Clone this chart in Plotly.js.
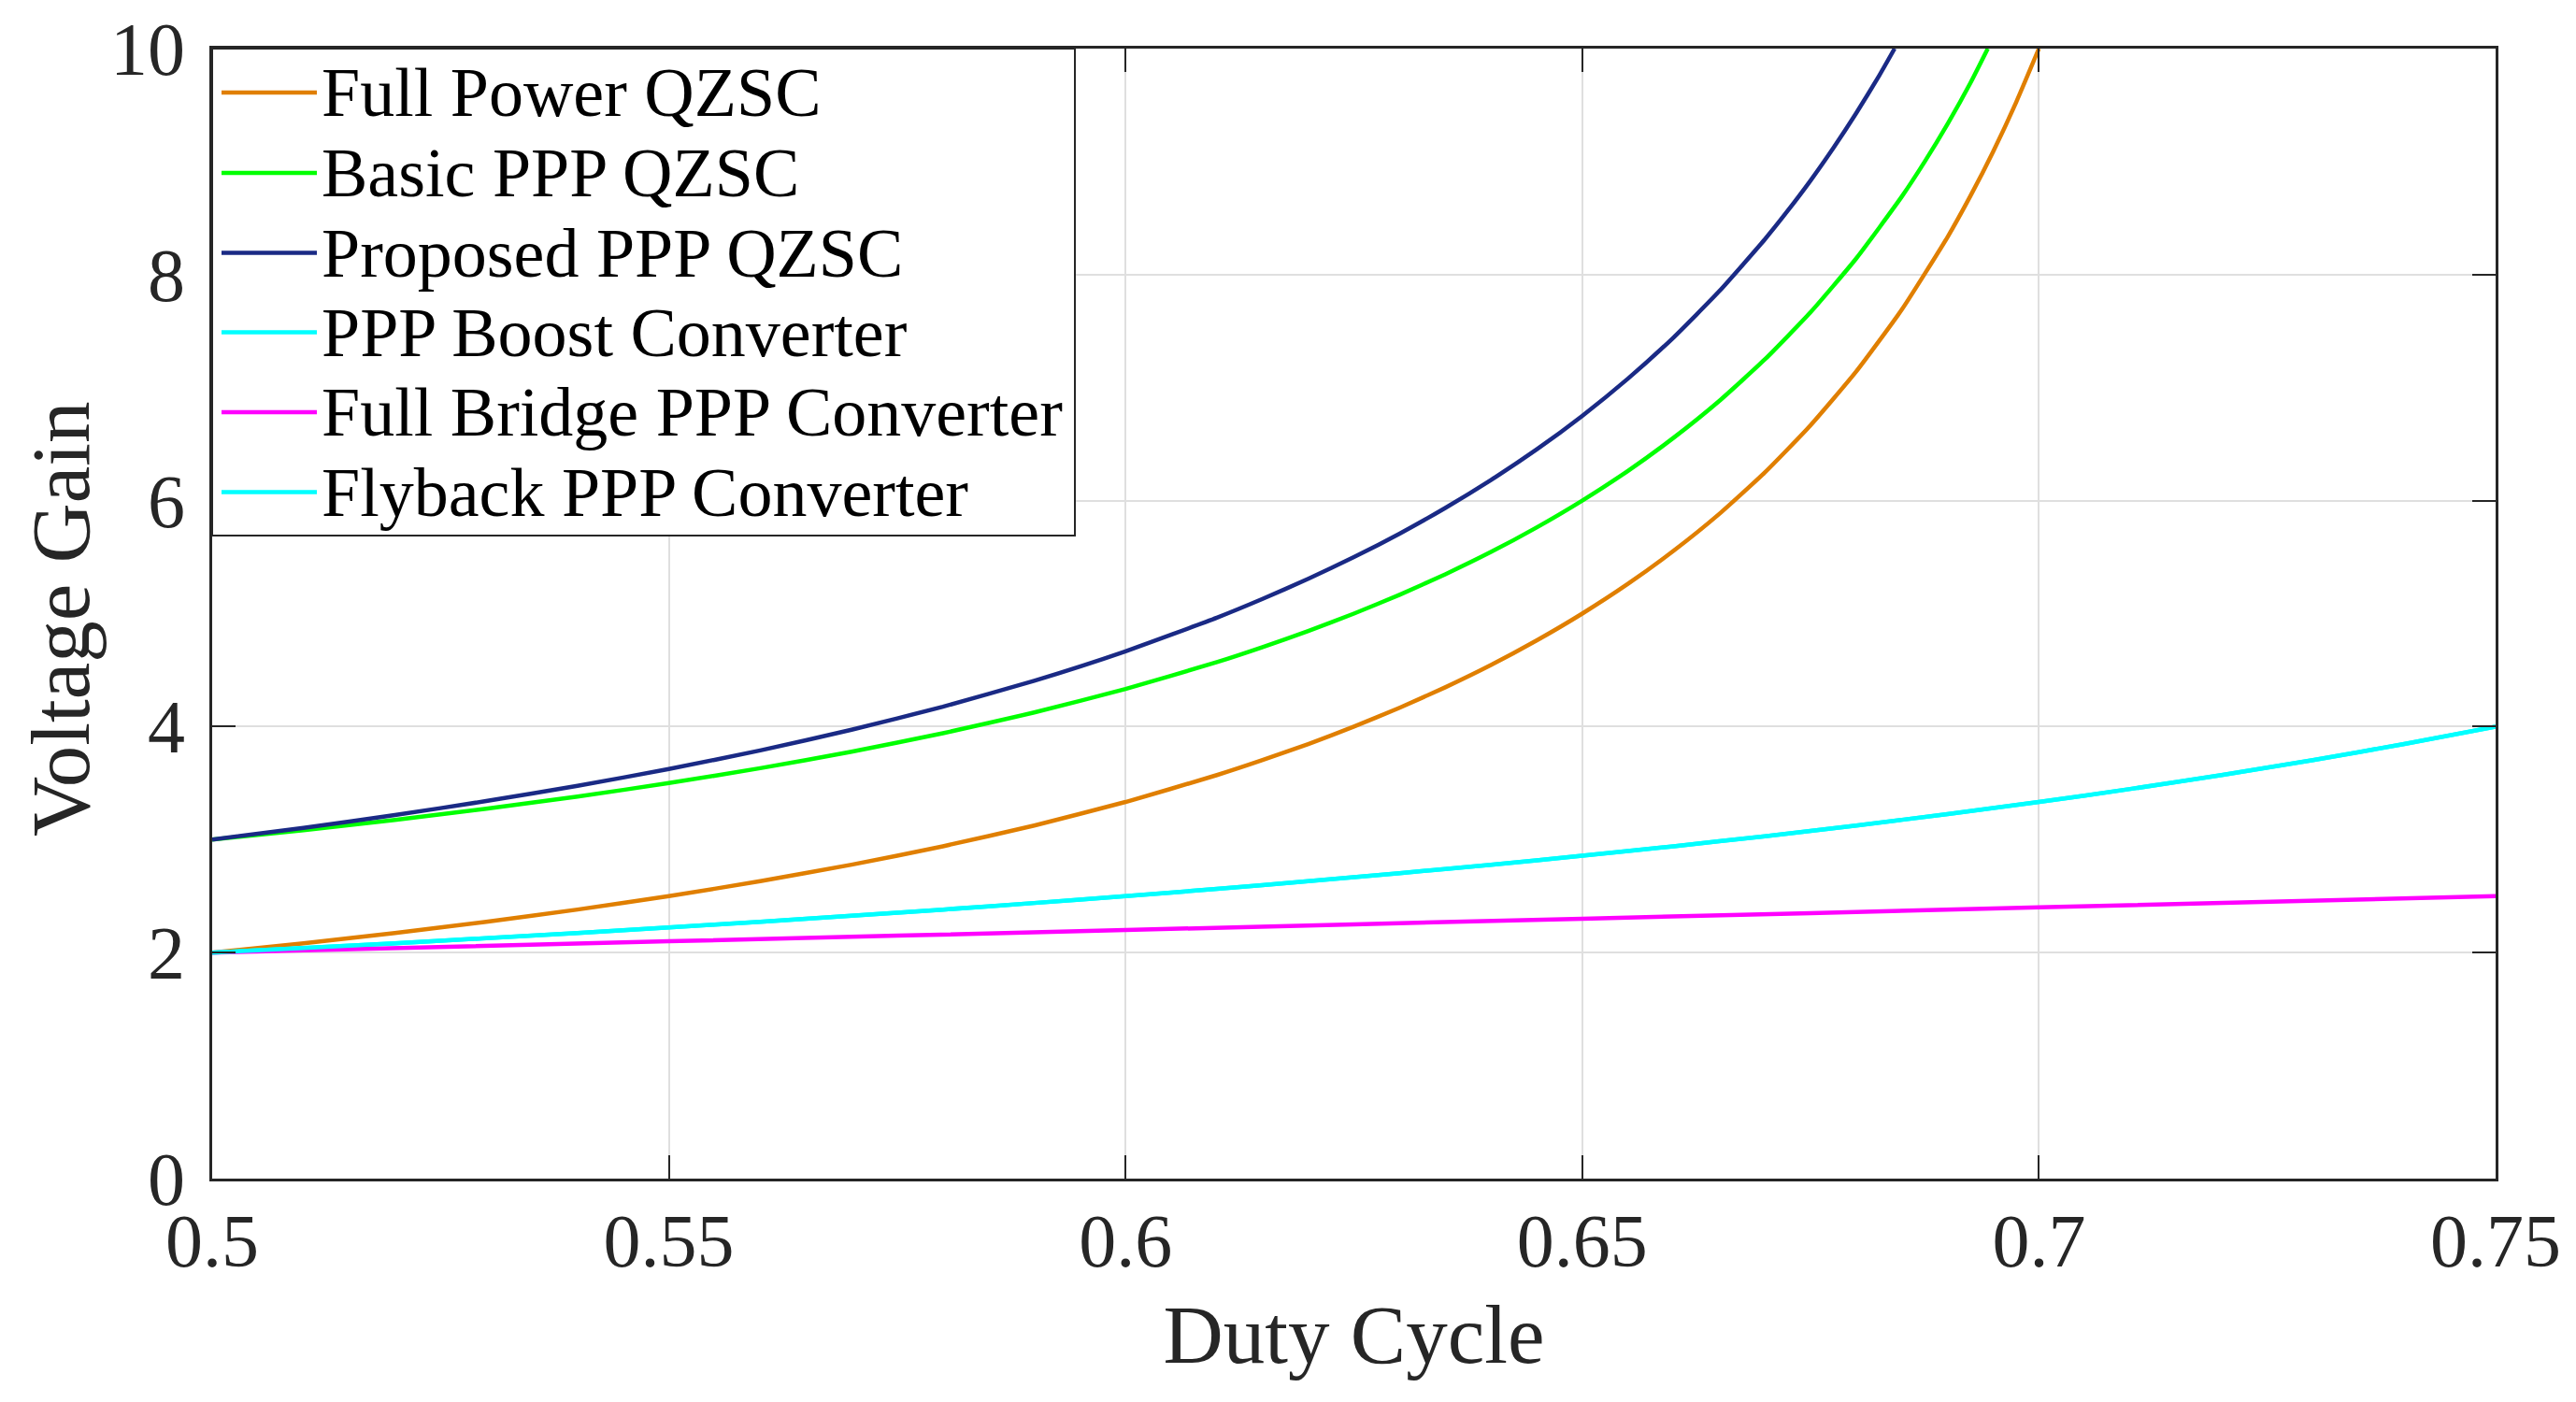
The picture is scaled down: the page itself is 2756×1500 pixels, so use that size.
<!DOCTYPE html>
<html>
<head>
<meta charset="utf-8">
<script src="https://cdn.plot.ly/plotly-3.0.1.min.js"></script>
<style>html,body{margin:0;padding:0;background:#fff;}#chart{width:2756px;height:1500px;}</style>
</head>
<body>
<div id="chart"></div>
<script>
// Series names
const seriesNames = ["Full Power QZSC", "Basic PPP QZSC", "Proposed PPP QZSC", "PPP Boost Converter", "Full Bridge PPP Converter", "Flyback PPP Converter"];

// Full Power QZSC
const dutyFullPower = [0.50,0.51,0.52,0.53,0.54,0.55,0.56,0.57,0.58,0.59,0.60,0.61,0.615,0.62,0.625,0.63,0.635,0.64,0.645,0.65,0.655,0.66,0.665,0.67,0.675,0.68,0.685,0.69,0.6925,0.695,0.6975,0.70];
const gainFullPower = [2.000,2.083,2.174,2.273,2.381,2.500,2.632,2.778,2.941,3.125,3.333,3.571,3.704,3.846,4.000,4.167,4.348,4.545,4.762,5.000,5.263,5.556,5.882,6.250,6.667,7.143,7.692,8.333,8.696,9.091,9.524,10.000];

// Basic PPP QZSC
const dutyBasic = [0.50,0.51,0.52,0.53,0.54,0.55,0.56,0.57,0.58,0.59,0.60,0.61,0.615,0.62,0.625,0.63,0.635,0.64,0.645,0.65,0.655,0.66,0.665,0.67,0.675,0.68,0.685,0.6875,0.69,0.6925,0.6944];
const gainBasic = [3.000,3.083,3.174,3.273,3.381,3.500,3.632,3.778,3.941,4.125,4.333,4.571,4.704,4.846,5.000,5.167,5.348,5.545,5.762,6.000,6.263,6.556,6.882,7.250,7.667,8.143,8.692,9.000,9.333,9.696,10.000];

// Proposed PPP QZSC
const dutyProposed = [0.50,0.51,0.52,0.53,0.54,0.55,0.56,0.57,0.58,0.59,0.60,0.61,0.615,0.62,0.625,0.63,0.635,0.64,0.645,0.65,0.655,0.66,0.665,0.67,0.6725,0.675,0.6775,0.68,0.6825,0.6842];
const gainProposed = [3.000,3.104,3.217,3.341,3.476,3.625,3.789,3.972,4.176,4.406,4.667,4.964,5.130,5.308,5.500,5.708,5.935,6.182,6.452,6.750,7.079,7.444,7.853,8.313,8.565,8.833,9.121,9.429,9.759,10.000];

// PPP Boost Converter
const dutyBoost = [0.50,0.51,0.52,0.53,0.54,0.55,0.56,0.57,0.58,0.59,0.60,0.61,0.62,0.63,0.64,0.65,0.66,0.67,0.68,0.69,0.70,0.71,0.72,0.73,0.74,0.75];
const gainBoost = [2.000,2.041,2.083,2.128,2.174,2.222,2.273,2.326,2.381,2.439,2.500,2.564,2.632,2.703,2.778,2.857,2.941,3.030,3.125,3.226,3.333,3.448,3.571,3.704,3.846,4.000];

// Full Bridge PPP Converter
const dutyFullBridge = [0.50,0.55,0.60,0.65,0.70,0.75];
const gainFullBridge = [2.00,2.10,2.20,2.30,2.40,2.50];

// Flyback PPP Converter
const dutyFlyback = [0.50,0.51,0.52,0.53,0.54,0.55,0.56,0.57,0.58,0.59,0.60,0.61,0.62,0.63,0.64,0.65,0.66,0.67,0.68,0.69,0.70,0.71,0.72,0.73,0.74,0.75];
const gainFlyback = [2.000,2.041,2.083,2.128,2.174,2.222,2.273,2.326,2.381,2.439,2.500,2.564,2.632,2.703,2.778,2.857,2.941,3.030,3.125,3.226,3.333,3.448,3.571,3.704,3.846,4.000];

// Axis ticks
const xTickVals = [0.5,0.55,0.6,0.65,0.7,0.75];
const xTickText = ["0.5","0.55","0.6","0.65","0.7","0.75"];
const yTickVals = [0,2,4,6,8,10];
const yTickText = ["0","2","4","6","8","10"];

const colors = ["#E07F00", "#00FF00", "#1A2A85", "#00FFFF", "#FF00FF", "#00FFFF"];
const xs = [dutyFullPower, dutyBasic, dutyProposed, dutyBoost, dutyFullBridge, dutyFlyback];
const ys = [gainFullPower, gainBasic, gainProposed, gainBoost, gainFullBridge, gainFlyback];

const traces = seriesNames.map((n, i) => ({
  x: xs[i], y: ys[i], name: n, type: "scatter", mode: "lines", showlegend: false,
  line: {color: colors[i], width: 4.5, shape: "spline", smoothing: 0.5}
}));

const FONT = "Liberation Serif, Times New Roman, serif";

// plot area in pixels
const PL = 227, PR = 2670, PT = 52, PB = 1261;
const px = q => (q - PL) / (PR - PL);
const py = p => (PB - p) / (PB - PT);

// custom legend (box, samples, labels)
const legRows = [99, 185, 270.5, 355.5, 441, 526.5];
const shapes = [{
  type: "rect", xref: "paper", yref: "paper", layer: "above",
  x0: 0, x1: px(1150), y0: py(573), y1: 1,
  fillcolor: "#ffffff", line: {color: "#262626", width: 2}
}];
const annotations = [];
seriesNames.forEach((n, i) => {
  shapes.push({type: "line", xref: "paper", yref: "paper", layer: "above",
    x0: px(237), x1: px(339), y0: py(legRows[i]), y1: py(legRows[i]),
    line: {color: colors[i], width: 4.5}});
  annotations.push({xref: "paper", yref: "paper", x: px(342), y: py(legRows[i]),
    xanchor: "left", yanchor: "middle", showarrow: false, text: n,
    font: {family: FONT, size: 74, color: "#000"}});
});
// y-axis title
annotations.push({xref: "paper", yref: "paper", x: px(65), y: py(662),
  xanchor: "center", yanchor: "middle", textangle: -90, showarrow: false,
  text: "Voltage Gain", font: {family: FONT, size: 89, color: "#262626"}});

const axisCommon = {
  showline: true, linecolor: "#262626", linewidth: 3, mirror: "ticks",
  ticks: "inside", ticklen: 25, tickwidth: 2, tickcolor: "#262626",
  showgrid: true, gridcolor: "#DFDFDF", gridwidth: 2, zeroline: false,
  tickfont: {family: FONT, size: 80, color: "#262626"}
};

const layout = {
  width: 2756, height: 1500,
  paper_bgcolor: "#fff", plot_bgcolor: "#fff",
  margin: {l: PL, r: 2756 - PR, t: PT, b: 1500 - PB},
  showlegend: false,
  shapes: shapes,
  annotations: annotations,
  xaxis: Object.assign({}, axisCommon, {
    range: [0.5, 0.75], tickvals: xTickVals, ticktext: xTickText,
    ticklabelstandoff: -5,
    title: {text: "Duty Cycle", font: {family: FONT, size: 89, color: "#262626"}, standoff: 25}
  }),
  yaxis: Object.assign({}, axisCommon, {
    range: [0, 10], tickvals: yTickVals, ticktext: yTickText,
    ticklabelstandoff: 10
  })
};

Plotly.newPlot("chart", traces, layout, {staticPlot: true, displayModeBar: false});
</script>
</body>
</html>
